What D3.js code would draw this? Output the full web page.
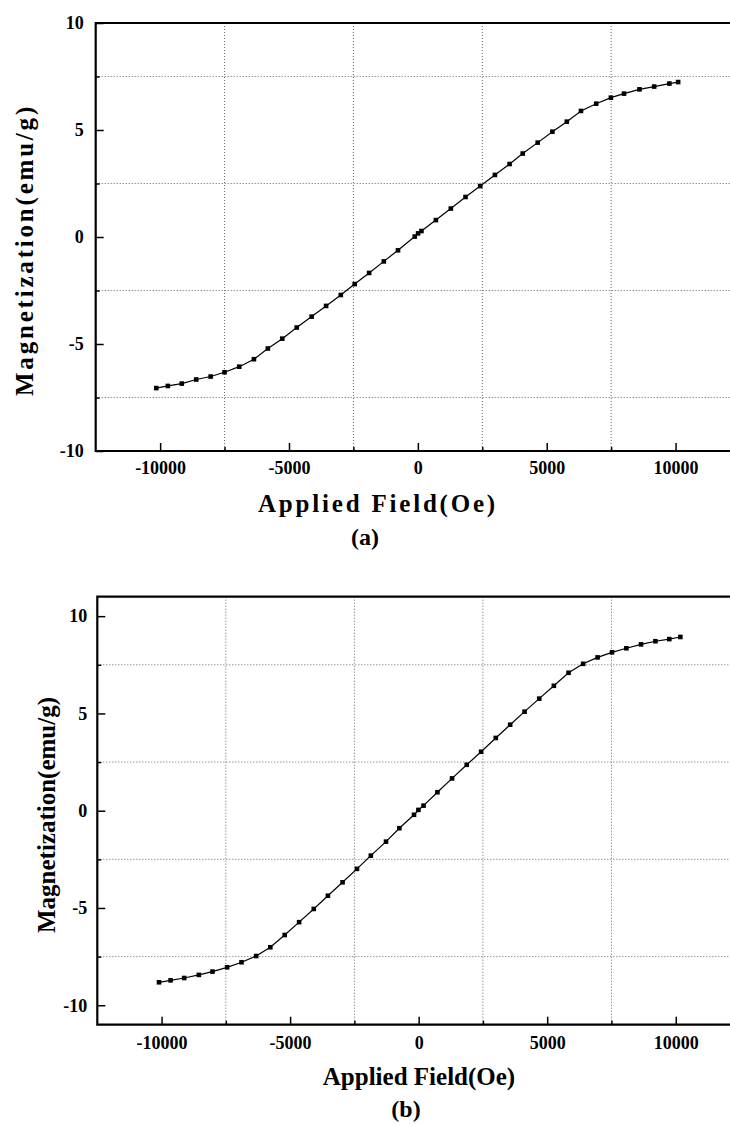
<!DOCTYPE html>
<html>
<head>
<meta charset="utf-8">
<script src="https://cdn.jsdelivr.net/npm/d3@7"></script>
<style>
  body { margin: 0; background: #fff; }
  svg { display: block; }
  text { font-family: "Liberation Serif", "DejaVu Serif", serif; font-weight: bold; fill: #000; }
</style>
</head>
<body>
<div id="wrapper"></div>
<script>
// panel (a): applied field (Oe) vs magnetization (emu/g)
const fieldA = [-10150, -9700, -9160, -8600, -8040, -7500, -6930, -6360, -5820, -5260,
  -4700, -4120, -3560, -2990, -2450, -1890, -1320, -770, -120, 10, 140, 700, 1280,
  1850, 2420, 2990, 3560, 4070, 4650, 5220, 5780, 6330, 6920, 7490, 8000, 8600,
  9170, 9760, 10100]
const magA = [-7.06, -6.96, -6.85, -6.66, -6.52, -6.32, -6.06, -5.71, -5.21, -4.75,
  -4.23, -3.72, -3.22, -2.71, -2.20, -1.68, -1.14, -0.62, 0.02, 0.17, 0.28, 0.79, 1.33,
  1.87, 2.38, 2.90, 3.41, 3.90, 4.41, 4.92, 5.39, 5.89, 6.23, 6.51, 6.70, 6.90,
  7.03, 7.17, 7.24]

// panel (b)
const fieldB = [-10100, -9650, -9120, -8550, -8020, -7450, -6890, -6320, -5770, -5210,
  -4650, -4080, -3530, -2960, -2400, -1860, -1270, -750, -180, -10, 190, 730, 1300,
  1870, 2430, 3000, 3560, 4120, 4690, 5260, 5830, 6400, 6960, 7520, 8080, 8650,
  9210, 9750, 10180]
const magB = [-8.82, -8.72, -8.60, -8.44, -8.27, -8.05, -7.79, -7.47, -7.02, -6.39,
  -5.73, -5.05, -4.37, -3.68, -2.99, -2.31, -1.59, -0.90, -0.21, 0.04, 0.26, 0.95, 1.66,
  2.36, 3.03, 3.74, 4.42, 5.09, 5.76, 6.42, 7.09, 7.55, 7.88, 8.14, 8.35, 8.55,
  8.71, 8.82, 8.93]

const xMajorTicks = [-10000, -5000, 0, 5000, 10000]
const xMinorTicks = [-7500, -2500, 2500, 7500]
const yMajorTicks = [-10, -5, 0, 5, 10]
const yMinorTicks = [-7.5, -2.5, 2.5, 7.5]

const xTitle = "Applied Field(Oe)"
const yTitle = "Magnetization(emu/g)"

const width = 730
const height = 1126

const svg = d3.select("#wrapper")
  .append("svg")
    .attr("width", width)
    .attr("height", height)

svg.append("rect")
    .attr("width", width)
    .attr("height", height)
    .attr("fill", "#fff")

function drawPanel(p) {
  const xScale = d3.scaleLinear()
    .domain([-12500, 12500])
    .range([p.left, p.right])

  const yScale = d3.scaleLinear()
    .domain(p.yDomain)
    .range([p.bottom, p.top])

  const g = svg.append("g")

  // dotted grid at the minor positions
  g.append("g")
    .selectAll("line")
    .data(xMinorTicks)
    .join("line")
      .attr("x1", d => xScale(d))
      .attr("x2", d => xScale(d))
      .attr("y1", p.top)
      .attr("y2", p.bottom)
      .attr("stroke", "#666")
      .attr("stroke-width", 1)
      .attr("stroke-dasharray", "1,2")

  g.append("g")
    .selectAll("line")
    .data(yMinorTicks)
    .join("line")
      .attr("x1", p.left)
      .attr("x2", p.right)
      .attr("y1", d => yScale(d))
      .attr("y2", d => yScale(d))
      .attr("stroke", "#666")
      .attr("stroke-width", 1)
      .attr("stroke-dasharray", "1,2")

  // axes, ticks pointing inward
  g.append("g")
      .attr("transform", `translate(0,${p.bottom})`)
      .call(d3.axisBottom(xScale)
        .tickValues(xMajorTicks)
        .tickSize(-8)
        .tickSizeOuter(0)
        .tickPadding(p.xPad)
        .tickFormat(d => String(d)))
  g.append("g")
      .attr("transform", `translate(0,${p.bottom})`)
      .call(d3.axisBottom(xScale)
        .tickValues(xMinorTicks)
        .tickSize(-4)
        .tickSizeOuter(0)
        .tickFormat(""))

  g.append("g")
      .attr("transform", `translate(${p.left},0)`)
      .call(d3.axisLeft(yScale)
        .tickValues(yMajorTicks)
        .tickSize(-8)
        .tickSizeOuter(0)
        .tickPadding(p.yPad)
        .tickFormat(d => String(d)))
  g.append("g")
      .attr("transform", `translate(${p.left},0)`)
      .call(d3.axisLeft(yScale)
        .tickValues(yMinorTicks)
        .tickSize(-4)
        .tickSizeOuter(0)
        .tickFormat(""))

  g.selectAll(".domain").remove()
  g.selectAll(".tick line").attr("stroke", "#000").attr("stroke-width", 1.5)
  g.selectAll(".tick text")
      .attr("font-size", p.tickFont)
      .attr("font-family", null)

  // frame: left, bottom and top (right side runs off the page)
  g.append("path")
      .attr("d", `M${p.right},${p.top}H${p.left}V${p.bottom}H${p.right}`)
      .attr("fill", "none")
      .attr("stroke", "#000")
      .attr("stroke-width", 2.2)

  // data
  const points = p.field.map((f, i) => [f, p.mag[i]])

  g.append("path")
      .datum(points)
      .attr("d", d3.line().x(d => xScale(d[0])).y(d => yScale(d[1])))
      .attr("fill", "none")
      .attr("stroke", "#000")
      .attr("stroke-width", 1.2)

  g.append("g")
    .selectAll("rect")
    .data(points)
    .join("rect")
      .attr("x", d => xScale(d[0]) - 2.3)
      .attr("y", d => yScale(d[1]) - 2.3)
      .attr("width", 4.6)
      .attr("height", 4.6)
      .attr("fill", "#000")

  // titles
  g.append("text")
      .attr("x", p.xTitleX)
      .attr("y", p.xTitleY)
      .attr("text-anchor", "middle")
      .attr("font-size", 25)
      .attr("letter-spacing", p.titleSpacing)
      .text(xTitle)

  g.append("text")
      .attr("transform", `translate(${p.yTitleX},${p.yTitleY}) rotate(-90)`)
      .attr("text-anchor", "middle")
      .attr("font-size", 25)
      .attr("letter-spacing", p.titleSpacing)
      .text(yTitle)

  g.append("text")
      .attr("x", p.capX)
      .attr("y", p.capY)
      .attr("text-anchor", "middle")
      .attr("font-size", 24)
      .text(p.caption)
}

drawPanel({
  field: fieldA, mag: magA, yDomain: [-10, 10],
  left: 95.7, right: 740, top: 23, bottom: 451,
  xPad: 10, yPad: 12, tickFont: 18,
  xTitleX: 378, xTitleY: 512, yTitleX: 33, yTitleY: 250, titleSpacing: 2.8,
  caption: "(a)", capX: 365, capY: 545
})

drawPanel({
  field: fieldB, mag: magB, yDomain: [-11, 11],
  left: 97.3, right: 740, top: 596.7, bottom: 1024.7,
  xPad: 12, yPad: 10, tickFont: 18,
  xTitleX: 419, xTitleY: 1085, yTitleX: 55, yTitleY: 815, titleSpacing: 0,
  caption: "(b)", capX: 406, capY: 1117
})
</script>
</body>
</html>
